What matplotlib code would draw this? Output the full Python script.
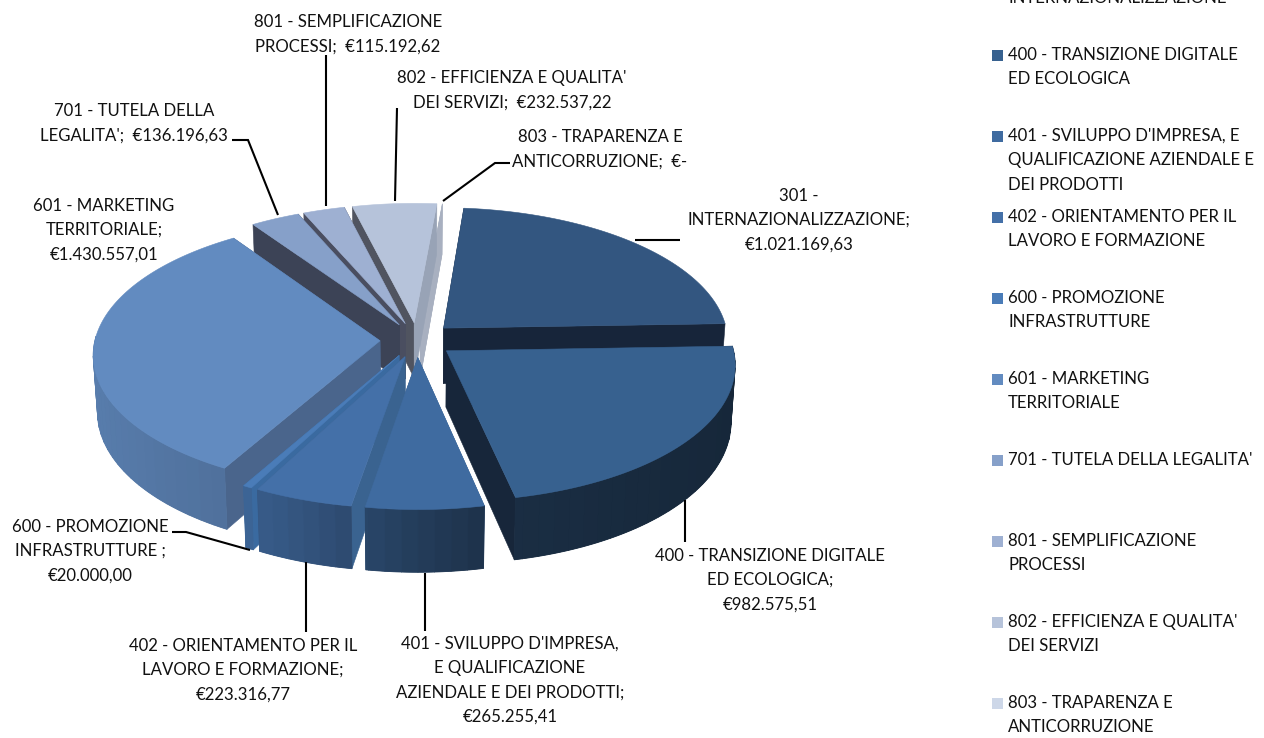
import numpy as np
import matplotlib
matplotlib.use("Agg")
import matplotlib.pyplot as plt
from matplotlib.patches import Polygon, Rectangle

plt.rcParams['font.family'] = ['Lato', 'DejaVu Sans']

codes = ["301", "400", "401", "402", "600", "601", "701", "801", "802", "803"]
values = [1021169.63, 982575.51, 265255.41, 223316.77, 20000.00,
          1430557.01, 136196.63, 115192.62, 232537.22, 0.0]
top_colors = ["#335680", "#37618f", "#3f6ba0", "#4470a8", "#4a7cb8",
              "#628bc0", "#86a0c9", "#9eb0d2", "#b6c3da", "#cdd7e8"]
cut_start_colors = ["#17253a", "#17263a", "#3a6390", "#3a6390", "#3a6aa0",
                    "#4a658c", "#3c4356", "#4a4e60", "#505460", "#a8b0c0"]
cut_end_colors = ["#17253a", "#17263a", "#3a6390", "#3a6390", "#3a6aa0",
                  "#4a658c", "#3c4356", "#4a4e60", "#98a3b6", "#a8b0c0"]
draw_order = [9, 8, 7, 6, 0, 5, 1, 4, 3, 2]

pie_labels = [
    "301 -\nINTERNAZIONALIZZAZIONE;\n€1.021.169,63",
    "400 - TRANSIZIONE DIGITALE\nED ECOLOGICA;\n€982.575,51",
    "401 - SVILUPPO D'IMPRESA,\nE QUALIFICAZIONE\nAZIENDALE E DEI PRODOTTI;\n€265.255,41",
    "402 - ORIENTAMENTO PER IL\nLAVORO E FORMAZIONE;\n€223.316,77",
    "600 - PROMOZIONE\nINFRASTRUTTURE ;\n€20.000,00",
    "601 - MARKETING\nTERRITORIALE;\n€1.430.557,01",
    "701 - TUTELA DELLA\nLEGALITA';  €136.196,63",
    "801 - SEMPLIFICAZIONE\nPROCESSI;  €115.192,62",
    "802 - EFFICIENZA E QUALITA'\nDEI SERVIZI;  €232.537,22",
    "803 - TRAPARENZA E\nANTICORRUZIONE;  €-",
]
label_xy = [(799, 220), (770, 580), (510, 680), (243, 670), (90, 551),
            (104, 230), (134, 123), (348, 34), (512, 90), (600, 149)]
leaders = [
    [(680, 240), (635, 240)],
    [(685, 542), (685, 500)],
    [(425, 631), (425, 573)],
    [(306, 632), (306, 562)],
    [(172, 532), (186, 532), (250, 550)],
    None,
    [(232, 140), (248, 140), (278, 215)],
    [(326, 55), (326, 206)],
    [(397, 108), (395, 201)],
    [(510, 163), (495, 163), (443, 201)],
]
legend_labels = [
    "301 -\nINTERNAZIONALIZZAZIONE",
    "400 - TRANSIZIONE DIGITALE\nED ECOLOGICA",
    "401 - SVILUPPO D'IMPRESA, E\nQUALIFICAZIONE AZIENDALE E\nDEI PRODOTTI",
    "402 - ORIENTAMENTO PER IL\nLAVORO E FORMAZIONE",
    "600 - PROMOZIONE\nINFRASTRUTTURE",
    "601 - MARKETING\nTERRITORIALE",
    "701 - TUTELA DELLA LEGALITA'",
    "801 - SEMPLIFICAZIONE\nPROCESSI",
    "802 - EFFICIENZA E QUALITA'\nDEI SERVIZI",
    "803 - TRAPARENZA E\nANTICORRUZIONE",
]

# projection
CX, CY = 417, 340
R, EXPLODE, K, P, DEPTH = 285, 37, 0.47, 0.095, 56
START = 85.0
FS = 12.1
LS = 1.65


def project(X, Y, bottom=False):
    d = 1 + P * Y / R
    sx = 0.987 if bottom else 1.0
    x = CX + sx * X / d
    y = CY - K * Y / d + (DEPTH / d if bottom else 0)
    return x, y


def shade(c):
    return np.interp(c, [-1, -0.42, -0.17, 0, 0.2, 1], [0.9, 0.8, 0.66, 0.56, 0.47, 0.40])


def scaled(color, f):
    rgb = np.array(matplotlib.colors.to_rgb(color)) * f
    return tuple(np.clip(rgb, 0, 1))


fig = plt.figure(figsize=(12.64, 7.38), dpi=100)
ax = fig.add_axes([0, 0, 1, 1])
ax.set_xlim(0, 1264)
ax.set_ylim(738, 0)
ax.axis("off")

total = sum(values)
sweeps = [v / total * 360 for v in values]
starts = START - np.concatenate([[0], np.cumsum(sweeps)[:-1]])

for i in draw_order:
    a0, sw = starts[i], sweeps[i]
    mid = np.radians(a0 - sw / 2)
    ox, oy = EXPLODE * np.cos(mid), EXPLODE * np.sin(mid)
    th = np.radians(np.linspace(a0, a0 - sw, max(int(sw / 3), 1) + 1))
    fine = np.radians(np.linspace(a0, a0 - sw, max(int(sw * 2), 1) + 1))
    X = ox + R * np.cos(th)
    Y = oy + R * np.sin(th)
    Xf = ox + R * np.cos(fine)
    Yf = oy + R * np.sin(fine)
    tx, ty = project(ox, oy)
    bx, by = project(ox, oy, True)
    xt, yt = project(X, Y)
    xb, yb = project(X, Y, True)
    xft, yft = project(Xf, Yf)
    xfb, yfb = project(Xf, Yf, True)

    # cut faces
    for j, col in ((0, cut_start_colors[i]), (-1, cut_end_colors[i])):
        poly = [(tx, ty), (xt[j], yt[j]), (xb[j], yb[j]), (bx, by)]
        ax.add_patch(Polygon(poly, closed=True, fc=col, ec=col, lw=0.4))
    # outer wall, front-facing part only: an underlay, then soft vertical bands
    front = np.sin(fine) <= 0.04
    if front.sum() > 1:
        under = list(zip(xft[front], yft[front])) + list(zip(xfb[front][::-1], yfb[front][::-1]))
        mean_col = scaled(top_colors[i], shade(np.cos(fine[front]).mean()))
        ax.add_patch(Polygon(under, closed=True, fc=mean_col, ec="none"))
        idx = np.where(front)[0]
        step = 6
        for s in range(idx[0], idx[-1], step):
            e = min(s + step, idx[-1])
            col = scaled(top_colors[i], shade(np.cos(fine[(s + e) // 2])))
            seg = list(zip(xft[s:e + 1], yft[s:e + 1])) + list(zip(xfb[s:e + 1][::-1], yfb[s:e + 1][::-1]))
            ax.add_patch(Polygon(seg, closed=True, fc=col, ec=col, lw=0.6, joinstyle="round"))
    # top face
    if sw > 0:
        poly = [(tx, ty)] + list(zip(xft, yft))
        ax.add_patch(Polygon(poly, closed=True, fc=top_colors[i], ec=top_colors[i], lw=0.4))

for pts in leaders:
    if pts:
        ax.plot(*zip(*pts), color="black", lw=1.5, solid_capstyle="butt", solid_joinstyle="miter")

for text, (x, y) in zip(pie_labels, label_xy):
    ax.text(x, y, text, ha="center", va="center", fontsize=FS, color="#111111", linespacing=LS)

for i, (text, col) in enumerate(zip(legend_labels, top_colors)):
    y = -26 + 81 * i
    ax.add_patch(Rectangle((992, y - 5.5), 11, 11, fc=col, ec="none"))
    ax.text(1008, y - 8, text, ha="left", va="top", fontsize=FS, color="#111111", linespacing=LS)

fig.savefig("out.png", dpi=100)
